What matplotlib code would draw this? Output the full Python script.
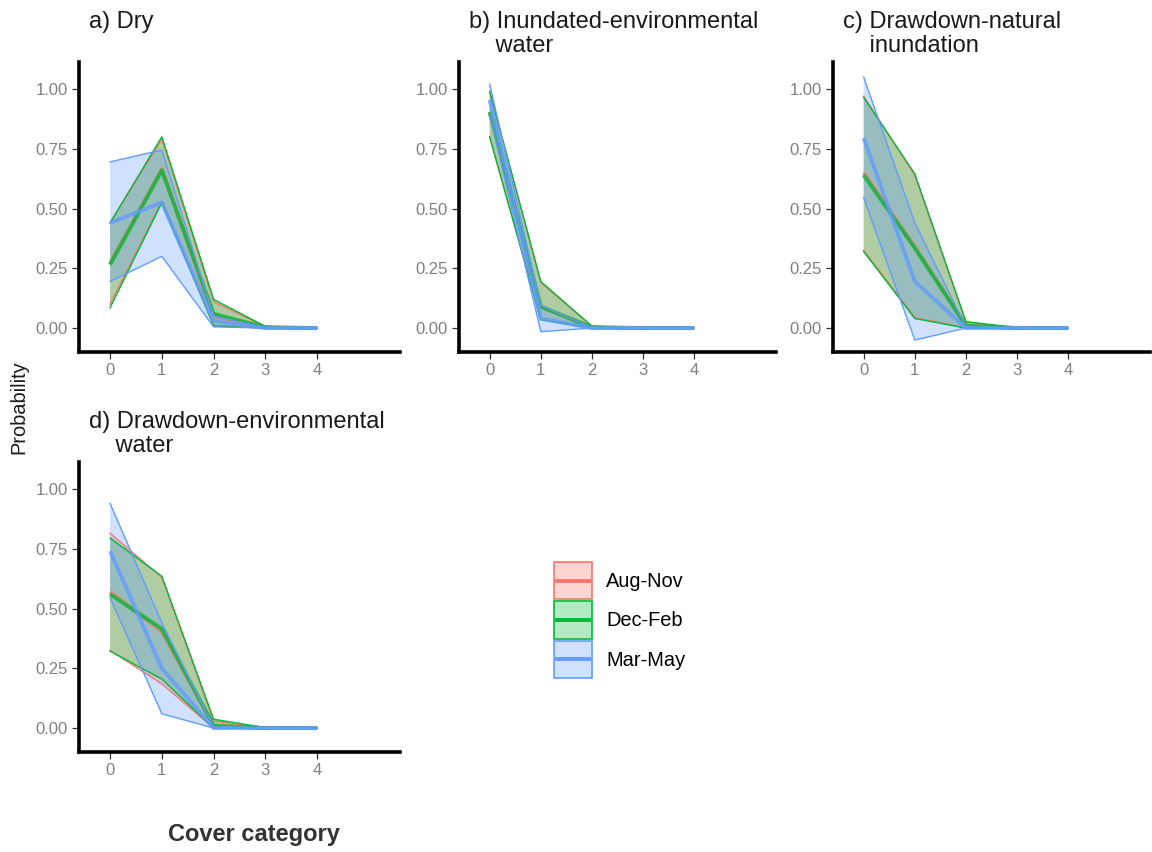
import matplotlib
matplotlib.use("Agg")
import matplotlib.pyplot as plt
from matplotlib.patches import Rectangle
from matplotlib.lines import Line2D
from matplotlib.legend_handler import HandlerBase
from matplotlib.colors import to_rgba
import numpy as np

plt.rcParams['font.family'] = ['Liberation Sans', 'DejaVu Sans']

cover = [0, 1, 2, 3, 4]
seasons = ["Aug-Nov", "Dec-Feb", "Mar-May"]
colors = ["#F8766D", "#00BA38", "#619CFF"]
titles = ["a) Dry", "b) Inundated-environmental\n    water",
          "c) Drawdown-natural\n    inundation", "d) Drawdown-environmental\n    water"]

# panel a) Dry
a_mean = {"Aug-Nov": [0.27, 0.665, 0.05, 0.003, 0], "Dec-Feb": [0.265, 0.66, 0.06, 0.003, 0], "Mar-May": [0.44, 0.525, 0.03, 0.0, 0]}
a_lo = {"Aug-Nov": [0.10, 0.53, 0.01, 0, 0], "Dec-Feb": [0.085, 0.525, 0.01, 0, 0], "Mar-May": [0.195, 0.30, 0.005, 0, 0]}
a_hi = {"Aug-Nov": [0.44, 0.79, 0.11, 0.006, 0], "Dec-Feb": [0.44, 0.80, 0.12, 0.007, 0], "Mar-May": [0.695, 0.745, 0.05, 0.002, 0]}
# panel b) Inundated-environmental water
b_mean = {"Aug-Nov": [0.90, 0.09, 0.003, 0, 0], "Dec-Feb": [0.905, 0.09, 0.003, 0, 0], "Mar-May": [0.955, 0.04, 0, 0, 0]}
b_lo = {"Aug-Nov": [0.80, 0.035, 0, 0, 0], "Dec-Feb": [0.80, 0.035, 0, 0, 0], "Mar-May": [0.89, -0.015, 0, 0, 0]}
b_hi = {"Aug-Nov": [0.99, 0.19, 0.008, 0, 0], "Dec-Feb": [0.99, 0.195, 0.008, 0, 0], "Mar-May": [1.02, 0.095, 0.002, 0, 0]}
# panel c) Drawdown-natural inundation
c_mean = {"Aug-Nov": [0.65, 0.34, 0.01, 0, 0], "Dec-Feb": [0.64, 0.335, 0.01, 0, 0], "Mar-May": [0.795, 0.195, 0, 0, 0]}
c_lo = {"Aug-Nov": [0.325, 0.045, 0, 0, 0], "Dec-Feb": [0.32, 0.04, 0, 0, 0], "Mar-May": [0.545, -0.05, 0, 0, 0]}
c_hi = {"Aug-Nov": [0.97, 0.64, 0.025, 0, 0], "Dec-Feb": [0.965, 0.645, 0.027, 0.002, 0], "Mar-May": [1.05, 0.44, 0.005, 0, 0]}
# panel d) Drawdown-environmental water
d_mean = {"Aug-Nov": [0.57, 0.405, 0.01, 0, 0], "Dec-Feb": [0.56, 0.415, 0.01, 0, 0], "Mar-May": [0.74, 0.25, 0, 0, 0]}
d_lo = {"Aug-Nov": [0.325, 0.185, 0, 0, 0], "Dec-Feb": [0.322, 0.205, 0, 0, 0], "Mar-May": [0.545, 0.06, 0, 0, 0]}
d_hi = {"Aug-Nov": [0.815, 0.63, 0.03, 0, 0], "Dec-Feb": [0.795, 0.635, 0.037, 0.002, 0], "Mar-May": [0.94, 0.44, 0.005, 0, 0]}

panels = [(a_mean, a_lo, a_hi), (b_mean, b_lo, b_hi), (c_mean, c_lo, c_hi), (d_mean, d_lo, d_hi)]

fig = plt.figure(figsize=(11.52, 8.52), dpi=100)
W, H = 1152, 852
def rect(l, r, t, b):
    return [l / W, 1 - b / H, (r - l) / W, (b - t) / H]

boxes = [(79, 400, 62, 352), (459, 776, 62, 352), (833, 1150, 62, 352), (79, 400, 462, 752)]

for (means, los, his), bx, title in zip(panels, boxes, titles):
    ax = fig.add_axes(rect(*bx))
    for s, c in zip(seasons, colors):
        ax.fill_between(cover, los[s], his[s], facecolor=c, alpha=0.3, edgecolor='none')
        ax.plot(cover, los[s], color=c, lw=1.0)
        ax.plot(cover, his[s], color=c, lw=1.0)
        ax.plot(cover, means[s], color=c, lw=2.8, alpha=0.8, solid_capstyle='butt')
    ax.set_xlim(-0.6, 5.6)
    ax.set_ylim(-0.1, 1.113)
    ax.set_xticks(cover)
    ax.set_yticks([0, 0.25, 0.5, 0.75, 1.0])
    ax.set_yticklabels(["0.00", "0.25", "0.50", "0.75", "1.00"])
    for sp in ["top", "right"]:
        ax.spines[sp].set_visible(False)
    for sp in ["left", "bottom"]:
        ax.spines[sp].set_linewidth(2.6)
        ax.spines[sp].set_color("black")
    ax.tick_params(axis='both', length=5, width=0.9, color='#333333', labelcolor='#7F7F7F', labelsize=12, pad=3)
    fig.text((bx[0] + 10) / W, 1 - (bx[2] - 51) / H, title, ha='left', va='top',
             fontsize=17, linespacing=1.12, color='#1A1A1A')

fig.text(19 / W, 1 - 407 / H, "Probability", rotation=90, va='center', ha='center', fontsize=14.4, color='#1A1A1A')
fig.text(254 / W, 1 - 835 / H, "Cover category", va='center', ha='center', fontsize=17, fontweight='bold', color='#333333')


class RibbonKey(HandlerBase):
    def create_artists(self, legend, orig, xdescent, ydescent, width, height, fontsize, trans):
        c = orig.get_color()
        r = Rectangle((-xdescent, -ydescent), width, height, facecolor=to_rgba(c, 0.3),
                      edgecolor=c, lw=1.2, transform=trans)
        ym = height / 2 - ydescent
        ln = Line2D([-xdescent + 2, width - xdescent - 2], [ym, ym], color=c, lw=2.8, transform=trans)
        return [r, ln]


handles = [Line2D([], [], color=c) for c in colors]
leg = fig.legend(handles, seasons, loc='center left', bbox_to_anchor=(536 / W, 1 - 620 / H),
                 frameon=False, fontsize=14.4, handlelength=1.9, handleheight=2.5,
                 labelspacing=0.1, handletextpad=0.7, borderpad=0.4,
                 handler_map={Line2D: RibbonKey()})

fig.savefig("out.png", dpi=100)
